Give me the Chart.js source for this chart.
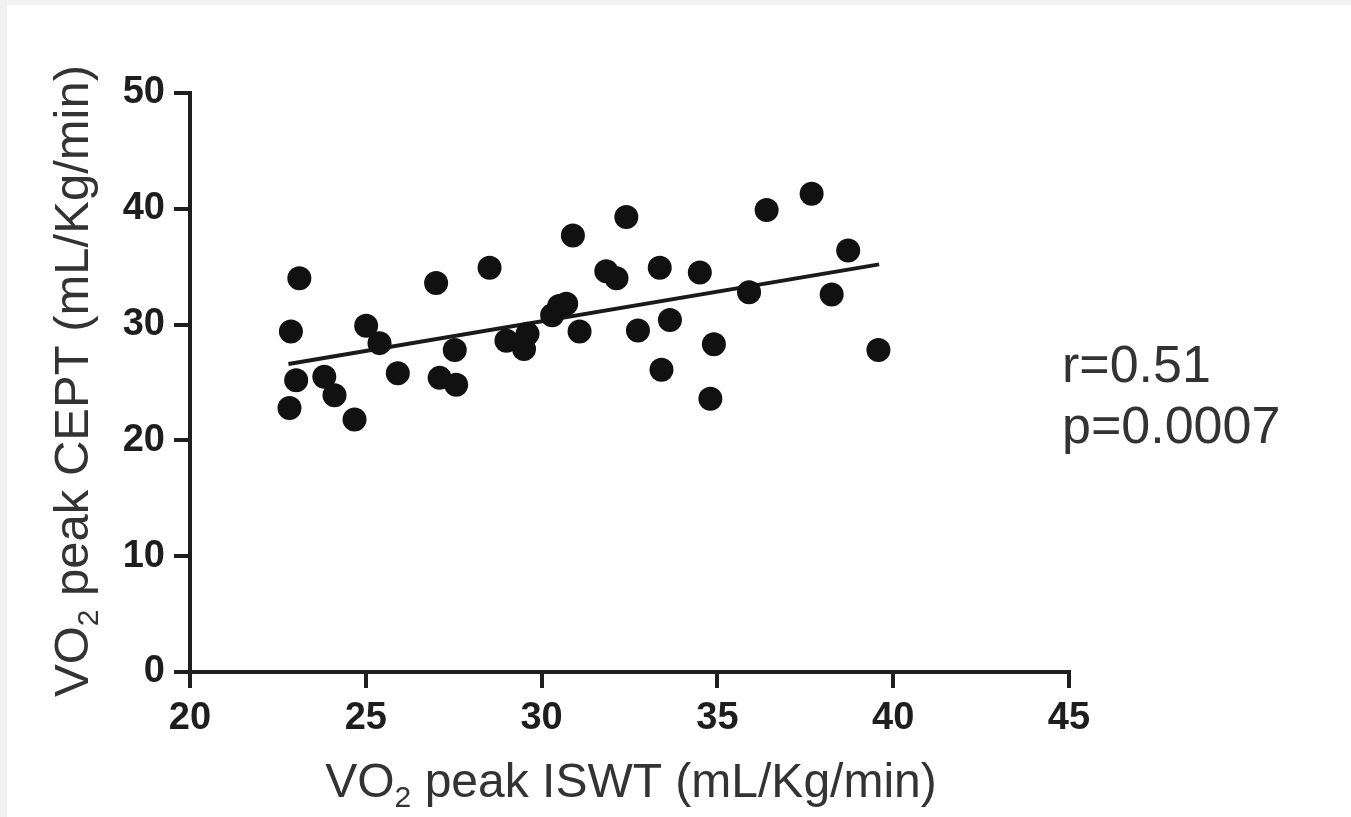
<!DOCTYPE html>
<html><head><meta charset="utf-8">
<script src="https://cdn.jsdelivr.net/npm/chart.js@4/dist/chart.umd.min.js"></script>
<style>html,body{margin:0;padding:0;background:#f2f2f2;overflow:hidden}canvas{display:block}</style>
</head><body>
<canvas id="c" width="1351" height="817"></canvas>
<script>
// ---- data ----
const iswtValues = [23.11,22.87,23.02,22.83,23.82,24.11,24.68,25.01,25.39,25.91,27.0,27.1,27.57,27.53,28.52,29.0,29.6,29.5,30.3,30.5,30.7,30.89,31.08,31.84,32.13,32.41,32.74,33.36,33.65,33.41,34.5,34.9,34.8,35.9,36.4,37.68,38.72,38.25,39.58];
const ceptValues = [34.0,29.4,25.2,22.8,25.5,23.9,21.8,29.9,28.4,25.8,33.6,25.4,24.8,27.8,34.9,28.6,29.2,27.9,30.8,31.6,31.8,37.7,29.4,34.6,34.0,39.3,29.5,34.9,30.4,26.1,34.5,28.3,23.6,32.8,39.9,41.3,36.4,32.6,27.8];
const fitX = [22.8, 39.6];
const fitY = [26.6, 35.2];
const xTicks = [20,25,30,35,40,45];
const yTicks = [0,10,20,30,40,50];
const xTitleParts = ['VO','2',' peak ISWT (mL/Kg/min)'];
const yTitleParts = ['VO','2',' peak CEPT (mL/Kg/min)'];
const statsLines = ['r=0.51','p=0.0007'];

const FONT = "'Liberation Sans', Arial, Helvetica, sans-serif";
const INK = '#1e1e1e';

const bgPlugin = {
  id:'bg',
  beforeDraw(chart){
    const c = chart.ctx;
    c.save();
    c.fillStyle = '#f2f2f2'; c.fillRect(0,0,chart.width,chart.height);
    c.fillStyle = '#ffffff'; c.fillRect(7,5,chart.width-7,chart.height-5);
    c.restore();
  }
};

function drawSubTitle(c, parts, size){
  const subSize = Math.round(size*0.62);
  c.font = size+'px '+FONT;
  const w1 = c.measureText(parts[0]).width;
  const w3 = c.measureText(parts[2]).width;
  c.font = subSize+'px '+FONT;
  const w2 = c.measureText(parts[1]).width;
  const total = w1+w2+w3;
  let x = -total/2;
  c.textAlign='left'; c.textBaseline='alphabetic';
  c.font = size+'px '+FONT; c.fillText(parts[0], x, 0); x+=w1;
  c.font = subSize+'px '+FONT; c.fillText(parts[1], x, size*0.2); x+=w2;
  c.font = size+'px '+FONT; c.fillText(parts[2], x, 0);
}

const textPlugin = {
  id:'texts',
  afterDraw(chart){
    const c = chart.ctx;
    c.save();
    c.fillStyle = '#333';
    // x title
    c.save(); c.translate(631, 797); drawSubTitle(c, xTitleParts, 48); c.restore();
    // y title
    c.save(); c.translate(88, 381); c.rotate(-Math.PI/2); drawSubTitle(c, yTitleParts, 49); c.restore();
    // stats
    c.font = '52px '+FONT; c.textAlign='left'; c.textBaseline='alphabetic';
    c.fillText(statsLines[0], 1062, 382);
    c.fillText(statsLines[1], 1062, 443);
    c.restore();
  }
};

new Chart(document.getElementById('c'), {
  data:{
    datasets:[
      { type:'scatter', data: iswtValues.map((x,i)=>({x, y: ceptValues[i]})),
        backgroundColor:'#111', borderWidth:0, pointRadius:12, pointHoverRadius:12, order:1 },
      { type:'line', data: fitX.map((x,i)=>({x, y: fitY[i]})),
        borderColor:'#1a1a1a', borderWidth:4, pointRadius:0, fill:false, order:2 }
    ]
  },
  options:{
    responsive:false, animation:false, devicePixelRatio:1,
    layout:{ padding:{ top:93, right:282, bottom:0, left:0 } },
    plugins:{ legend:{display:false}, tooltip:{enabled:false} },
    scales:{
      x:{ type:'linear', min:20, max:45,
        afterBuildTicks: s => { s.ticks = xTicks.map(v=>({value:v})); },
        afterFit: s => { s.height = 145; },
        ticks:{ font:{family:FONT, size:38, weight:'bold'}, color:INK, padding:8 },
        grid:{ display:true, drawOnChartArea:false, drawTicks:true, tickLength:16, lineWidth:4, color:INK },
        border:{ display:true, width:4, color:INK }
      },
      y:{ type:'linear', min:0, max:50,
        afterBuildTicks: s => { s.ticks = yTicks.map(v=>({value:v})); },
        afterFit: s => { s.width = 190; },
        ticks:{ font:{family:FONT, size:38, weight:'bold'}, color:INK, padding:9 },
        grid:{ display:true, drawOnChartArea:false, drawTicks:true, tickLength:16, lineWidth:4, color:INK },
        border:{ display:true, width:4, color:INK }
      }
    }
  },
  plugins:[bgPlugin, textPlugin]
});
</script>
</body></html>
